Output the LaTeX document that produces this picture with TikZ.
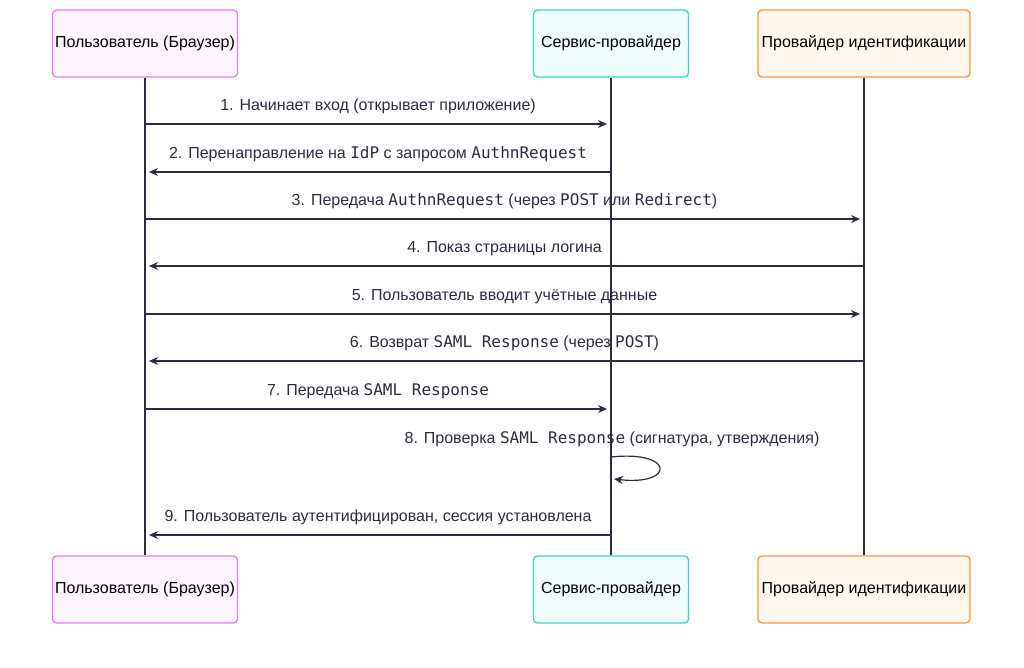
\documentclass[tikz,border=0pt]{standalone}
\usepackage{fontspec}
\setmainfont{Liberation Sans}
\setmonofont{DejaVu Sans Mono}
\usetikzlibrary{positioning, calc, arrows.meta}
\definecolor{lineC}{HTML}{2E2A40}
\definecolor{userD}{HTML}{E27CF3}
\definecolor{userF}{HTML}{FDF4FF}
\definecolor{spD}{HTML}{3ED3BF}
\definecolor{spF}{HTML}{EFFDFA}
\definecolor{idpD}{HTML}{FB953F}
\definecolor{idpF}{HTML}{FFF6EC}
\begin{document}
\begin{tikzpicture}[x=1pt, y=-1pt,
        actor/.style={rectangle, rounded corners=4pt, draw, line width=1.3pt, minimum height=67pt, inner sep=0pt, font=\fontsize{16}{18}\selectfont},
        user/.style={actor, draw=userD, fill=userF, minimum width=185pt},
        sp/.style={actor, draw=spD, fill=spF, minimum width=155pt},
        idp/.style={actor, draw=idpD, fill=idpF, minimum width=212pt},
        life/.style={lineC, line width=1.2pt},
        msg/.style={lineC, line width=1.2pt, -{Stealth[length=9pt, width=8pt]}},
        lbl/.style={font=\fontsize{16}{18}\selectfont, text=lineC, inner sep=0pt}
    ]
        \useasboundingbox (0,0) rectangle (1024,667);

        % Actors
        \node[user] (userT) at (145,43.5) {Пользователь (Браузер)};
        \node[sp]   (spT)   at (611,43.5) {Сервис-провайдер};
        \node[idp]  (idpT)  at (864,43.5) {Провайдер идентификации};
        \node[user] (userB) at (145,589.5) {Пользователь (Браузер)};
        \node[sp]   (spB)   at (611,589.5) {Сервис-провайдер};
        \node[idp]  (idpB)  at (864,589.5) {Провайдер идентификации};

        % Lifelines
        \draw[life] (userT) -- (userB);
        \draw[life] (spT) -- (spB);
        \draw[life] (idpT) -- (idpB);

        % Messages
        \foreach \y/\a/\b/\t in {
            124/userT/spT/{1. Начинает вход (открывает приложение)},
            172/spT/userT/{2. Перенаправление на \texttt{IdP} с запросом \texttt{AuthnRequest}},
            219/userT/idpT/{3. Передача \texttt{AuthnRequest} (через \texttt{POST} или \texttt{Redirect})},
            266/idpT/userT/{4. Показ страницы логина},
            314/userT/idpT/{5. Пользователь вводит учётные данные},
            361/idpT/userT/{6. Возврат \texttt{SAML Response} (через \texttt{POST})},
            409/userT/spT/{7. Передача \texttt{SAML Response}},
            535/spT/userT/{9. Пользователь аутентифицирован, сессия установлена}} {
            \coordinate (from) at (\a |- 0,\y);
            \coordinate (to) at (\b |- 0,\y);
            \draw[msg] (from) -- ($(to)!4pt!(from)$);
            \node[lbl, anchor=base] at ($(from)!0.5!(to)+(0,-14)$) {\t};
        }

        % Self check
        \coordinate (selfA) at (spT |- 0,457);
        \coordinate (selfB) at (spT |- 0,479);
        \draw[msg] (selfA) .. controls (675,450) and (675,486) .. ($(selfB)+(3,0)$);
        \node[lbl, anchor=base] at (612,443) {8. Проверка \texttt{SAML Response} (сигнатура, утверждения)};
    \end{tikzpicture}
\end{document}
